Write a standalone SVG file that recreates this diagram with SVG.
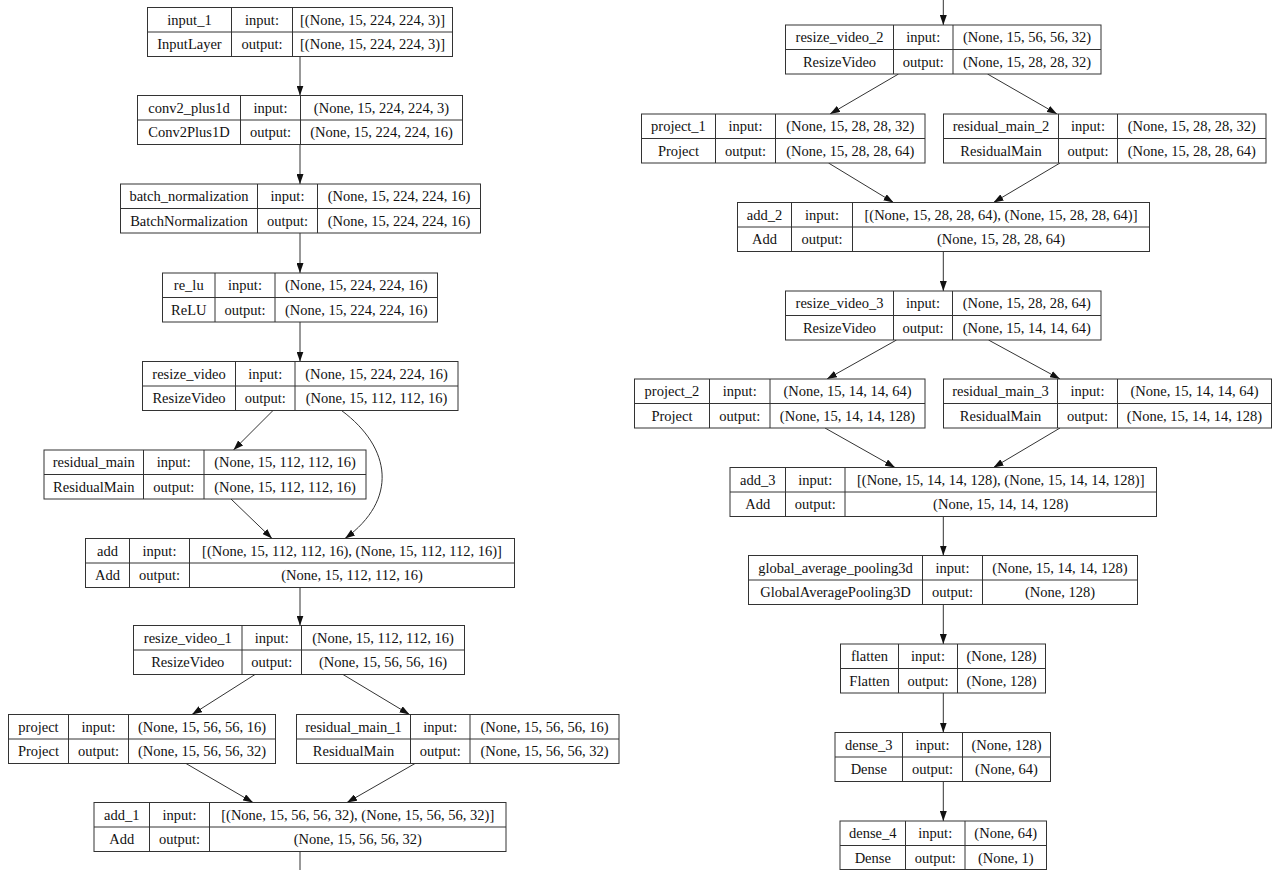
<svg xmlns="http://www.w3.org/2000/svg" width="1283" height="870" viewBox="0 0 1283 870">
  <defs>
    <style>
      .node rect { fill: #fff; stroke: #333; stroke-width: 1; }
      .node path { fill: none; stroke: #333; stroke-width: 1; }
      .node text { font-family: "Liberation Serif", "Times New Roman", serif; font-size: 14.5px; fill: #111; text-anchor: middle; }
      #edges path { fill: none; stroke: #333; stroke-width: 1; }
      #edges path.arrow { marker-end: url(#ah); }
    </style>
    <marker id="ah" viewBox="0 0 10 7" refX="10" refY="3.5" markerWidth="10" markerHeight="7" markerUnits="userSpaceOnUse" orient="auto">
      <path d="M0,0 L10,3.5 L0,7 z" fill="#111"/>
    </marker>
  </defs>
  <rect width="1283" height="870" fill="#fff"/>

  <!-- connectors -->
  <g id="edges">
    <path class="arrow" d="M300,56.5 V95.5"/>
    <path class="arrow" d="M300,144.5 V184"/>
    <path class="arrow" d="M300,233 V273"/>
    <path class="arrow" d="M300,322 V361.5"/>
    <path class="arrow" d="M273,410.5 L233.5,450"/>
    <path class="arrow" d="M341.5,410.5 C392,448 398,500 345,538.5"/>
    <path class="arrow" d="M231,499 L272,538.5"/>
    <path class="arrow" d="M300,587.5 V625.5"/>
    <path class="arrow" d="M255,674.5 L192,714.5"/>
    <path class="arrow" d="M343,674.5 L409.5,714.5"/>
    <path class="arrow" d="M186,763.5 L253,802.5"/>
    <path class="arrow" d="M415,763.5 L347,802.5"/>
    <path d="M300,851.5 V870"/>

    <path class="arrow" d="M943.3,0 V25"/>
    <path class="arrow" d="M898.5,74 L830,114"/>
    <path class="arrow" d="M987.5,74 L1057,114"/>
    <path class="arrow" d="M828.5,163 L893.5,202.5"/>
    <path class="arrow" d="M1060,163 L993.5,202.5"/>
    <path class="arrow" d="M943.3,251.5 V291"/>
    <path class="arrow" d="M896.5,340 L827,379"/>
    <path class="arrow" d="M988.5,340 L1060,379"/>
    <path class="arrow" d="M825,428 L895,467.5"/>
    <path class="arrow" d="M1060,428 L993.5,467.5"/>
    <path class="arrow" d="M943.3,516.5 V555.5"/>
    <path class="arrow" d="M943.3,604.5 V644"/>
    <path class="arrow" d="M943.3,693 V732.5"/>
    <path class="arrow" d="M943.3,781.5 V821"/>
  </g>

  <!-- left column -->
  <g id="input_1" class="node">
    <rect x="147.5" y="7.5" width="305" height="49"/>
    <path d="M147.5,32 H452.5 M231.5,7.5 V56.5 M292.5,7.5 V56.5"/>
    <text x="189.5" y="24.5">input_1</text>
    <text x="262" y="24.5">input:</text>
    <text x="372.5" y="24.5">[(None, 15, 224, 224, 3)]</text>
    <text x="189.5" y="49">InputLayer</text>
    <text x="262" y="49">output:</text>
    <text x="372.5" y="49">[(None, 15, 224, 224, 3)]</text>
  </g>

  <g id="conv2_plus1d" class="node">
    <rect x="137.5" y="95.5" width="325" height="49"/>
    <path d="M137.5,120 H462.5 M240.5,95.5 V144.5 M300.5,95.5 V144.5"/>
    <text x="189" y="112.5">conv2_plus1d</text>
    <text x="270.5" y="112.5">input:</text>
    <text x="381.5" y="112.5">(None, 15, 224, 224, 3)</text>
    <text x="189" y="137">Conv2Plus1D</text>
    <text x="270.5" y="137">output:</text>
    <text x="381.5" y="137">(None, 15, 224, 224, 16)</text>
  </g>

  <g id="batch_normalization" class="node">
    <rect x="120.5" y="184" width="360" height="49"/>
    <path d="M120.5,208.5 H480.5 M257.5,184 V233 M317.5,184 V233"/>
    <text x="189" y="201">batch_normalization</text>
    <text x="287.5" y="201">input:</text>
    <text x="399" y="201">(None, 15, 224, 224, 16)</text>
    <text x="189" y="225.5">BatchNormalization</text>
    <text x="287.5" y="225.5">output:</text>
    <text x="399" y="225.5">(None, 15, 224, 224, 16)</text>
  </g>

  <g id="re_lu" class="node">
    <rect x="162.5" y="273" width="275" height="49"/>
    <path d="M162.5,297.5 H437.5 M215,273 V322 M275,273 V322"/>
    <text x="188.75" y="290">re_lu</text>
    <text x="245" y="290">input:</text>
    <text x="356.25" y="290">(None, 15, 224, 224, 16)</text>
    <text x="188.75" y="314.5">ReLU</text>
    <text x="245" y="314.5">output:</text>
    <text x="356.25" y="314.5">(None, 15, 224, 224, 16)</text>
  </g>

  <g id="resize_video" class="node">
    <rect x="142.5" y="361.5" width="315.5" height="49"/>
    <path d="M142.5,386 H458 M235.5,361.5 V410.5 M295,361.5 V410.5"/>
    <text x="189" y="378.5">resize_video</text>
    <text x="265.25" y="378.5">input:</text>
    <text x="376.5" y="378.5">(None, 15, 224, 224, 16)</text>
    <text x="189" y="403">ResizeVideo</text>
    <text x="265.25" y="403">output:</text>
    <text x="376.5" y="403">(None, 15, 112, 112, 16)</text>
  </g>

  <g id="residual_main" class="node">
    <rect x="44" y="450" width="322" height="49"/>
    <path d="M44,474.5 H366 M143.5,450 V499 M204,450 V499"/>
    <text x="93.75" y="467">residual_main</text>
    <text x="173.75" y="467">input:</text>
    <text x="285" y="467">(None, 15, 112, 112, 16)</text>
    <text x="93.75" y="491.5">ResidualMain</text>
    <text x="173.75" y="491.5">output:</text>
    <text x="285" y="491.5">(None, 15, 112, 112, 16)</text>
  </g>

  <g id="add" class="node">
    <rect x="85.5" y="538.5" width="429" height="49"/>
    <path d="M85.5,563 H514.5 M129.5,538.5 V587.5 M189.5,538.5 V587.5"/>
    <text x="107.5" y="555.5">add</text>
    <text x="159.5" y="555.5">input:</text>
    <text x="352" y="555.5">[(None, 15, 112, 112, 16), (None, 15, 112, 112, 16)]</text>
    <text x="107.5" y="580">Add</text>
    <text x="159.5" y="580">output:</text>
    <text x="352" y="580">(None, 15, 112, 112, 16)</text>
  </g>

  <g id="resize_video_1" class="node">
    <rect x="133.5" y="625.5" width="331" height="49"/>
    <path d="M133.5,650 H464.5 M242,625.5 V674.5 M301.5,625.5 V674.5"/>
    <text x="187.75" y="642.5">resize_video_1</text>
    <text x="271.75" y="642.5">input:</text>
    <text x="383" y="642.5">(None, 15, 112, 112, 16)</text>
    <text x="187.75" y="667">ResizeVideo</text>
    <text x="271.75" y="667">output:</text>
    <text x="383" y="667">(None, 15, 56, 56, 16)</text>
  </g>

  <g id="project" class="node">
    <rect x="8.5" y="714.5" width="267" height="49"/>
    <path d="M8.5,739 H275.5 M68.5,714.5 V763.5 M128.5,714.5 V763.5"/>
    <text x="38.5" y="731.5">project</text>
    <text x="98.5" y="731.5">input:</text>
    <text x="202" y="731.5">(None, 15, 56, 56, 16)</text>
    <text x="38.5" y="756">Project</text>
    <text x="98.5" y="756">output:</text>
    <text x="202" y="756">(None, 15, 56, 56, 32)</text>
  </g>

  <g id="residual_main_1" class="node">
    <rect x="296.5" y="714.5" width="322.5" height="49"/>
    <path d="M296.5,739 H619 M410.5,714.5 V763.5 M470,714.5 V763.5"/>
    <text x="353.5" y="731.5">residual_main_1</text>
    <text x="440.25" y="731.5">input:</text>
    <text x="544.5" y="731.5">(None, 15, 56, 56, 16)</text>
    <text x="353.5" y="756">ResidualMain</text>
    <text x="440.25" y="756">output:</text>
    <text x="544.5" y="756">(None, 15, 56, 56, 32)</text>
  </g>

  <g id="add_1" class="node">
    <rect x="94" y="802.5" width="412" height="49"/>
    <path d="M94,827 H506 M149.5,802.5 V851.5 M209.5,802.5 V851.5"/>
    <text x="121.75" y="819.5">add_1</text>
    <text x="179.5" y="819.5">input:</text>
    <text x="357.75" y="819.5">[(None, 15, 56, 56, 32), (None, 15, 56, 56, 32)]</text>
    <text x="121.75" y="844">Add</text>
    <text x="179.5" y="844">output:</text>
    <text x="357.75" y="844">(None, 15, 56, 56, 32)</text>
  </g>

  <!-- right column -->
  <g id="resize_video_2" class="node">
    <rect x="785.5" y="25" width="315.5" height="49"/>
    <path d="M785.5,49.5 H1101 M893.5,25 V74 M953,25 V74"/>
    <text x="839.5" y="42">resize_video_2</text>
    <text x="923.25" y="42">input:</text>
    <text x="1027" y="42">(None, 15, 56, 56, 32)</text>
    <text x="839.5" y="66.5">ResizeVideo</text>
    <text x="923.25" y="66.5">output:</text>
    <text x="1027" y="66.5">(None, 15, 28, 28, 32)</text>
  </g>

  <g id="project_1" class="node">
    <rect x="641.5" y="114" width="283.5" height="49"/>
    <path d="M641.5,138.5 H925 M715.5,114 V163 M775.5,114 V163"/>
    <text x="678.5" y="131">project_1</text>
    <text x="745.5" y="131">input:</text>
    <text x="850.25" y="131">(None, 15, 28, 28, 32)</text>
    <text x="678.5" y="155.5">Project</text>
    <text x="745.5" y="155.5">output:</text>
    <text x="850.25" y="155.5">(None, 15, 28, 28, 64)</text>
  </g>

  <g id="residual_main_2" class="node">
    <rect x="943.5" y="114" width="322.5" height="49"/>
    <path d="M943.5,138.5 H1266 M1058.5,114 V163 M1117.5,114 V163"/>
    <text x="1001" y="131">residual_main_2</text>
    <text x="1088" y="131">input:</text>
    <text x="1191.75" y="131">(None, 15, 28, 28, 32)</text>
    <text x="1001" y="155.5">ResidualMain</text>
    <text x="1088" y="155.5">output:</text>
    <text x="1191.75" y="155.5">(None, 15, 28, 28, 64)</text>
  </g>

  <g id="add_2" class="node">
    <rect x="737.5" y="202.5" width="412" height="49"/>
    <path d="M737.5,227 H1149.5 M791.5,202.5 V251.5 M852.5,202.5 V251.5"/>
    <text x="764.5" y="219.5">add_2</text>
    <text x="822" y="219.5">input:</text>
    <text x="1001" y="219.5">[(None, 15, 28, 28, 64), (None, 15, 28, 28, 64)]</text>
    <text x="764.5" y="244">Add</text>
    <text x="822" y="244">output:</text>
    <text x="1001" y="244">(None, 15, 28, 28, 64)</text>
  </g>

  <g id="resize_video_3" class="node">
    <rect x="785.5" y="291" width="315.5" height="49"/>
    <path d="M785.5,315.5 H1101 M893.5,291 V340 M952.5,291 V340"/>
    <text x="839.5" y="308">resize_video_3</text>
    <text x="923" y="308">input:</text>
    <text x="1026.75" y="308">(None, 15, 28, 28, 64)</text>
    <text x="839.5" y="332.5">ResizeVideo</text>
    <text x="923" y="332.5">output:</text>
    <text x="1026.75" y="332.5">(None, 15, 14, 14, 64)</text>
  </g>

  <g id="project_2" class="node">
    <rect x="634.5" y="379" width="290.5" height="49"/>
    <path d="M634.5,403.5 H925 M709.5,379 V428 M770,379 V428"/>
    <text x="672" y="396">project_2</text>
    <text x="739.75" y="396">input:</text>
    <text x="847.5" y="396">(None, 15, 14, 14, 64)</text>
    <text x="672" y="420.5">Project</text>
    <text x="739.75" y="420.5">output:</text>
    <text x="847.5" y="420.5">(None, 15, 14, 14, 128)</text>
  </g>

  <g id="residual_main_3" class="node">
    <rect x="943.5" y="379" width="328" height="49"/>
    <path d="M943.5,403.5 H1271.5 M1057.5,379 V428 M1117.5,379 V428"/>
    <text x="1000.5" y="396">residual_main_3</text>
    <text x="1087.5" y="396">input:</text>
    <text x="1194.5" y="396">(None, 15, 14, 14, 64)</text>
    <text x="1000.5" y="420.5">ResidualMain</text>
    <text x="1087.5" y="420.5">output:</text>
    <text x="1194.5" y="420.5">(None, 15, 14, 14, 128)</text>
  </g>

  <g id="add_3" class="node">
    <rect x="730" y="467.5" width="426.5" height="49"/>
    <path d="M730,492 H1156.5 M785.5,467.5 V516.5 M845,467.5 V516.5"/>
    <text x="757.75" y="484.5">add_3</text>
    <text x="815.25" y="484.5">input:</text>
    <text x="1000.75" y="484.5">[(None, 15, 14, 14, 128), (None, 15, 14, 14, 128)]</text>
    <text x="757.75" y="509">Add</text>
    <text x="815.25" y="509">output:</text>
    <text x="1000.75" y="509">(None, 15, 14, 14, 128)</text>
  </g>

  <g id="global_average_pooling3d" class="node">
    <rect x="748.5" y="555.5" width="389" height="49"/>
    <path d="M748.5,580 H1137.5 M922.5,555.5 V604.5 M982.5,555.5 V604.5"/>
    <text x="835.5" y="572.5">global_average_pooling3d</text>
    <text x="952.5" y="572.5">input:</text>
    <text x="1060" y="572.5">(None, 15, 14, 14, 128)</text>
    <text x="835.5" y="597">GlobalAveragePooling3D</text>
    <text x="952.5" y="597">output:</text>
    <text x="1060" y="597">(None, 128)</text>
  </g>

  <g id="flatten" class="node">
    <rect x="840.5" y="644" width="205" height="49"/>
    <path d="M840.5,668.5 H1045.5 M898.5,644 V693 M957.5,644 V693"/>
    <text x="869.5" y="661">flatten</text>
    <text x="928" y="661">input:</text>
    <text x="1001.5" y="661">(None, 128)</text>
    <text x="869.5" y="685.5">Flatten</text>
    <text x="928" y="685.5">output:</text>
    <text x="1001.5" y="685.5">(None, 128)</text>
  </g>

  <g id="dense_3" class="node">
    <rect x="835" y="732.5" width="215.5" height="49"/>
    <path d="M835,757 H1050.5 M902.5,732.5 V781.5 M962.5,732.5 V781.5"/>
    <text x="868.75" y="749.5">dense_3</text>
    <text x="932.5" y="749.5">input:</text>
    <text x="1006.5" y="749.5">(None, 128)</text>
    <text x="868.75" y="774">Dense</text>
    <text x="932.5" y="774">output:</text>
    <text x="1006.5" y="774">(None, 64)</text>
  </g>

  <g id="dense_4" class="node">
    <rect x="840" y="821" width="206.5" height="48.5"/>
    <path d="M840,845.5 H1046.5 M905.5,821 V869.5 M965,821 V869.5"/>
    <text x="872.75" y="838">dense_4</text>
    <text x="935.25" y="838">input:</text>
    <text x="1005.75" y="838">(None, 64)</text>
    <text x="872.75" y="862.5">Dense</text>
    <text x="935.25" y="862.5">output:</text>
    <text x="1005.75" y="862.5">(None, 1)</text>
  </g>
</svg>
